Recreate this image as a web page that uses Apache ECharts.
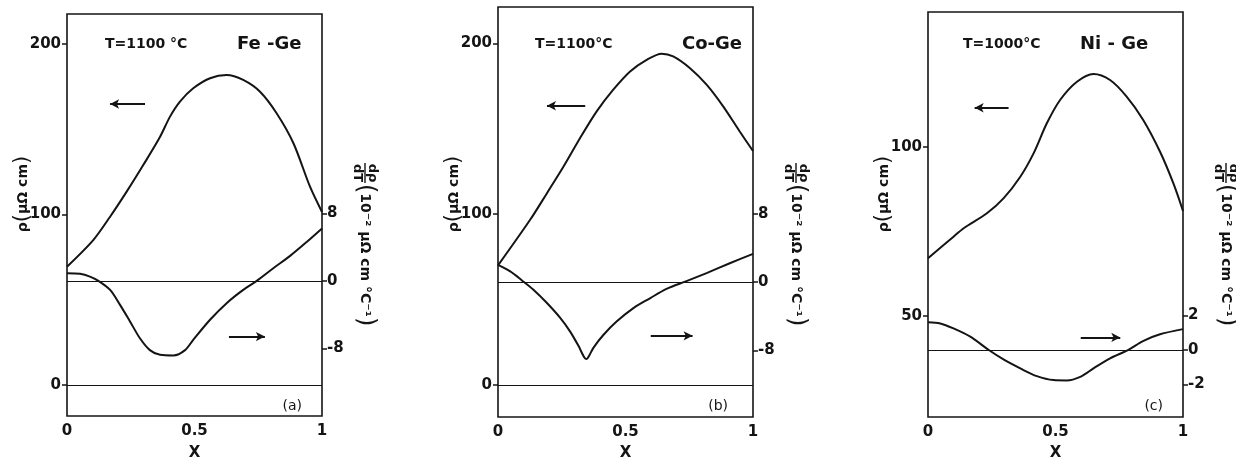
<!DOCTYPE html>
<html>
<head>
<meta charset="utf-8">
<script src="https://cdn.jsdelivr.net/npm/echarts@6/dist/echarts.min.js"></script>
<style>
  html, body { margin: 0; padding: 0; background: #fff; }
  #chart { width: 1236px; height: 462px; }
</style>
</head>
<body>
<div id="chart"></div>
<script>
// Composition axis (atomic fraction x of Ge)
const xTicks = [0, 0.5, 1];
const xTickLabels = ['0', '0.5', '1'];

// Fe-Ge at 1100 °C: resistivity (µΩ cm) and its temperature coefficient (10^-2 µΩ cm/°C)
const feRho = [[0, 69.4], [0.103, 85.0], [0.169, 98.7], [0.234, 113.4], [0.299, 129.0], [0.365, 145.6],
  [0.404, 157.4], [0.443, 166.2], [0.495, 174.0], [0.561, 179.9], [0.626, 181.8], [0.691, 178.9],
  [0.757, 172.0], [0.822, 159.4], [0.888, 141.8], [0.953, 116.3], [1.0, 101.5]];
const feDrho = [[0, 0.9], [0.051, 0.83], [0.09, 0.5], [0.123, 0.0], [0.169, -1.07], [0.208, -2.84],
  [0.247, -4.8], [0.286, -6.8], [0.325, -8.2], [0.365, -8.76], [0.417, -8.84], [0.463, -8.2],
  [0.495, -6.98], [0.561, -4.6], [0.626, -2.64], [0.691, -1.07], [0.744, 0.0], [0.809, 1.5],
  [0.875, 2.96], [0.94, 4.6], [1.0, 6.2]];
const feRhoTicks = [0, 100, 200];
const feDrhoTicks = [-8, 0, 8];
const feRhoArrow = [[0.306, 164.8], [0.169, 164.8]];
const feDrhoArrow = [[0.635, -6.6], [0.776, -6.6]];

// Co-Ge at 1100 °C
const coRho = [[0, 70.0], [0.126, 96.7], [0.192, 112.3], [0.257, 127.9], [0.322, 144.6], [0.387, 160.2],
  [0.452, 172.9], [0.518, 183.6], [0.583, 190.4], [0.642, 194.0], [0.687, 192.4], [0.752, 185.6],
  [0.818, 175.8], [0.883, 163.1], [0.948, 148.4], [1.0, 137.0]];
const coDrho = [[0, 2.0], [0.048, 1.24], [0.094, 0.19], [0.139, -0.9], [0.192, -2.46], [0.244, -4.2],
  [0.283, -5.8], [0.316, -7.5], [0.338, -8.8], [0.348, -9.0], [0.358, -8.6], [0.374, -7.7],
  [0.413, -6.2], [0.466, -4.6], [0.531, -3.05], [0.596, -1.9], [0.661, -0.8], [0.739, 0.1],
  [0.818, 1.05], [0.909, 2.2], [1.0, 3.3]];
const coRhoTicks = [0, 100, 200];
const coDrhoTicks = [-8, 0, 8];
const coRhoArrow = [[0.342, 163.5], [0.192, 163.5]];
const coDrhoArrow = [[0.599, -6.3], [0.763, -6.3]];

// Ni-Ge at 1000 °C
const niRho = [[0, 67.0], [0.1, 73.4], [0.14, 75.9], [0.231, 80.3], [0.296, 84.7], [0.362, 91.1],
  [0.414, 98.0], [0.466, 106.9], [0.518, 113.8], [0.584, 119.2], [0.649, 121.5], [0.714, 119.7],
  [0.779, 114.8], [0.844, 107.9], [0.91, 98.5], [0.962, 89.2], [1.0, 81.0]];
const niDrho = [[0, 1.6], [0.048, 1.53], [0.1, 1.24], [0.166, 0.76], [0.237, 0.0], [0.296, -0.56],
  [0.362, -1.08], [0.427, -1.53], [0.492, -1.76], [0.544, -1.78], [0.597, -1.57], [0.649, -1.08],
  [0.714, -0.5], [0.786, 0.0], [0.845, 0.52], [0.91, 0.9], [1.0, 1.2]];
const niRhoTicks = [50, 100];
const niDrhoTicks = [-2, 0, 2];
const niRhoArrow = [[0.316, 111.5], [0.183, 111.5]];
const niDrhoArrow = [[0.599, 0.72], [0.754, 0.72]];

const FONT = 'DejaVu Sans';
const INK = '#141414';

const panels = [
  { grid: { left: 67, top: 14, width: 255, height: 402 },
    rho: feRho, drho: feDrho, rhoTicks: feRhoTicks, drhoTicks: feDrhoTicks,
    rhoRange: [-18.2, 217.6], drhoRange: [-16.0, 31.6], rhoZero: true,
    rhoArrow: feRhoArrow, drhoArrow: feDrhoArrow,
    temp: 'T=1100 °C', alloy: 'Fe -Ge', tag: '(a)', tempX: 38, alloyX: 170, tagInset: 20 },
  { grid: { left: 498, top: 7, width: 255, height: 410 },
    rho: coRho, drho: coDrho, rhoTicks: coRhoTicks, drhoTicks: coDrhoTicks,
    rhoRange: [-18.75, 221.3], drhoRange: [-15.8, 32.2], rhoZero: true,
    rhoArrow: coRhoArrow, drhoArrow: coDrhoArrow,
    temp: 'T=1100°C', alloy: 'Co-Ge', tag: '(b)', tempX: 37, alloyX: 184, tagInset: 25 },
  { grid: { left: 928, top: 12, width: 255, height: 405 },
    rho: niRho, drho: niDrho, rhoTicks: niRhoTicks, drhoTicks: niDrhoTicks,
    rhoRange: [20.1, 139.8], drhoRange: [-3.9, 19.6], rhoZero: false,
    rhoArrow: niRhoArrow, drhoArrow: niDrhoArrow,
    temp: 'T=1000°C', alloy: 'Ni - Ge', tag: '(c)', tempX: 35, alloyX: 152, tagInset: 20 }
];

const tickFont = { color: INK, fontFamily: FONT, fontWeight: 'bold', fontSize: 15 };
const thinLine = { width: 1, color: INK, type: 'solid' };
const arrowStyle = { width: 1.8, color: INK, type: 'solid' };

const grids = [], xAxes = [], yAxes = [], series = [], graphics = [];

// horizontal reference line across the whole frame at value 0 of the given axis
function zeroLine() {
  return [
    { coord: [0, 0], symbol: 'none', lineStyle: thinLine },
    { coord: [1, 0], symbol: 'none' }
  ];
}
// pointer arrow telling which axis a curve belongs to
function arrowLine(pair) {
  return [
    { coord: pair[0], symbol: 'none', lineStyle: arrowStyle },
    { coord: pair[1], symbol: 'arrow', symbolSize: [7, 9] }
  ];
}

function curve(i, axisIndex, data, marks) {
  return {
    type: 'line', xAxisIndex: i, yAxisIndex: axisIndex, data: data,
    smooth: 0.3, symbol: 'none', showSymbol: false,
    silent: true, animation: false, lineStyle: { color: INK, width: 2 }, z: 3,
    markLine: {
      silent: true, animation: false, symbol: 'none',
      label: { show: false }, lineStyle: thinLine, data: marks
    }
  };
}

panels.forEach((p, i) => {
  grids.push(Object.assign({
    show: true, borderColor: INK, borderWidth: 1.6, backgroundColor: 'transparent',
    containLabel: false, outerBoundsMode: 'none'
  }, p.grid));

  xAxes.push({
    type: 'value', gridIndex: i, min: 0, max: 1,
    axisLine: { show: false }, axisTick: { show: false }, splitLine: { show: false },
    axisLabel: Object.assign({
      customValues: xTicks, margin: 8,
      formatter: v => xTickLabels[xTicks.indexOf(v)]
    }, tickFont)
  });

  yAxes.push({
    type: 'value', gridIndex: i, position: 'left',
    min: p.rhoRange[0], max: p.rhoRange[1],
    axisLine: { show: false }, splitLine: { show: false },
    axisTick: { show: true, customValues: p.rhoTicks, length: 5, lineStyle: { color: INK, width: 1.5 } },
    axisLabel: Object.assign({ customValues: p.rhoTicks, margin: 6, formatter: v => String(v) }, tickFont)
  });
  yAxes.push({
    type: 'value', gridIndex: i, position: 'right',
    min: p.drhoRange[0], max: p.drhoRange[1],
    axisLine: { show: false }, splitLine: { show: false },
    axisTick: { show: true, customValues: p.drhoTicks, length: 5, lineStyle: { color: INK, width: 1.5 } },
    axisLabel: Object.assign({ customValues: p.drhoTicks, margin: 5, formatter: v => String(v) }, tickFont)
  });

  const rhoMarks = p.rhoZero ? [zeroLine(), arrowLine(p.rhoArrow)] : [arrowLine(p.rhoArrow)];
  series.push(curve(i, 2 * i, p.rho, rhoMarks));
  series.push(curve(i, 2 * i + 1, p.drho, [zeroLine(), arrowLine(p.drhoArrow)]));

  const g = p.grid;
  const right = g.left + g.width;

  // temperature and alloy system at the top of the frame
  graphics.push({ type: 'text', x: g.left + p.tempX, y: 44, silent: true,
    style: { text: p.temp, fill: INK, fontFamily: FONT, fontWeight: 'bold', fontSize: 14,
      align: 'left', verticalAlign: 'middle' } });
  graphics.push({ type: 'text', x: g.left + p.alloyX, y: 44, silent: true,
    style: { text: p.alloy, fill: INK, fontFamily: FONT, fontWeight: 'bold', fontSize: 18,
      align: 'left', verticalAlign: 'middle' } });
  // panel tag
  graphics.push({ type: 'text', x: right - p.tagInset, y: 406, silent: true,
    style: { text: p.tag, fill: INK, fontFamily: FONT, fontSize: 14,
      align: 'right', verticalAlign: 'middle' } });
  // composition axis title
  graphics.push({ type: 'text', x: g.left + g.width / 2, y: 453, silent: true,
    style: { text: 'X', fill: INK, fontFamily: FONT, fontWeight: 'bold', fontSize: 15,
      align: 'center', verticalAlign: 'middle' } });
  // left axis title: rho (µΩ cm), reading upward
  graphics.push({ type: 'text', x: g.left - 44, y: 194, rotation: Math.PI / 2, silent: true,
    style: {
      text: '{a|ρ}{p|(}{a|μΩ cm}{p|)}', align: 'center', verticalAlign: 'middle',
      rich: {
        a: { fill: INK, fontFamily: FONT, fontWeight: 'bold', fontSize: 14 },
        p: { fill: INK, fontFamily: FONT, fontSize: 21 }
      }
    } });
  // right axis title: d rho / dT (10^-2 µΩ cm °C^-1), reading downward
  graphics.push({ type: 'group', x: right + 43, y: 163, rotation: -Math.PI / 2, silent: true,
    children: [
      { type: 'text', x: 10, y: -1, style: { text: 'dρ', fill: INK, fontFamily: FONT, fontWeight: 'bold',
        fontSize: 13, align: 'center', verticalAlign: 'bottom' } },
      { type: 'line', shape: { x1: 0, y1: 0, x2: 20, y2: 0 }, style: { stroke: INK, lineWidth: 1.4 } },
      { type: 'text', x: 10, y: 1, style: { text: 'dT', fill: INK, fontFamily: FONT, fontWeight: 'bold',
        fontSize: 13, align: 'center', verticalAlign: 'top' } },
      { type: 'text', x: 21, y: 0, style: {
        text: '{p|(}{a|10⁻² μΩ cm °C⁻¹}{p|)}', align: 'left', verticalAlign: 'middle',
        rich: {
          a: { fill: INK, fontFamily: FONT, fontWeight: 'bold', fontSize: 14 },
          p: { fill: INK, fontFamily: FONT, fontSize: 24 }
        } } }
    ] });
});

const chart = echarts.init(document.getElementById('chart'), null, { renderer: 'canvas' });
chart.setOption({
  backgroundColor: '#ffffff',
  animation: false,
  grid: grids,
  xAxis: xAxes,
  yAxis: yAxes,
  series: series,
  graphic: graphics
});
</script>
</body>
</html>
